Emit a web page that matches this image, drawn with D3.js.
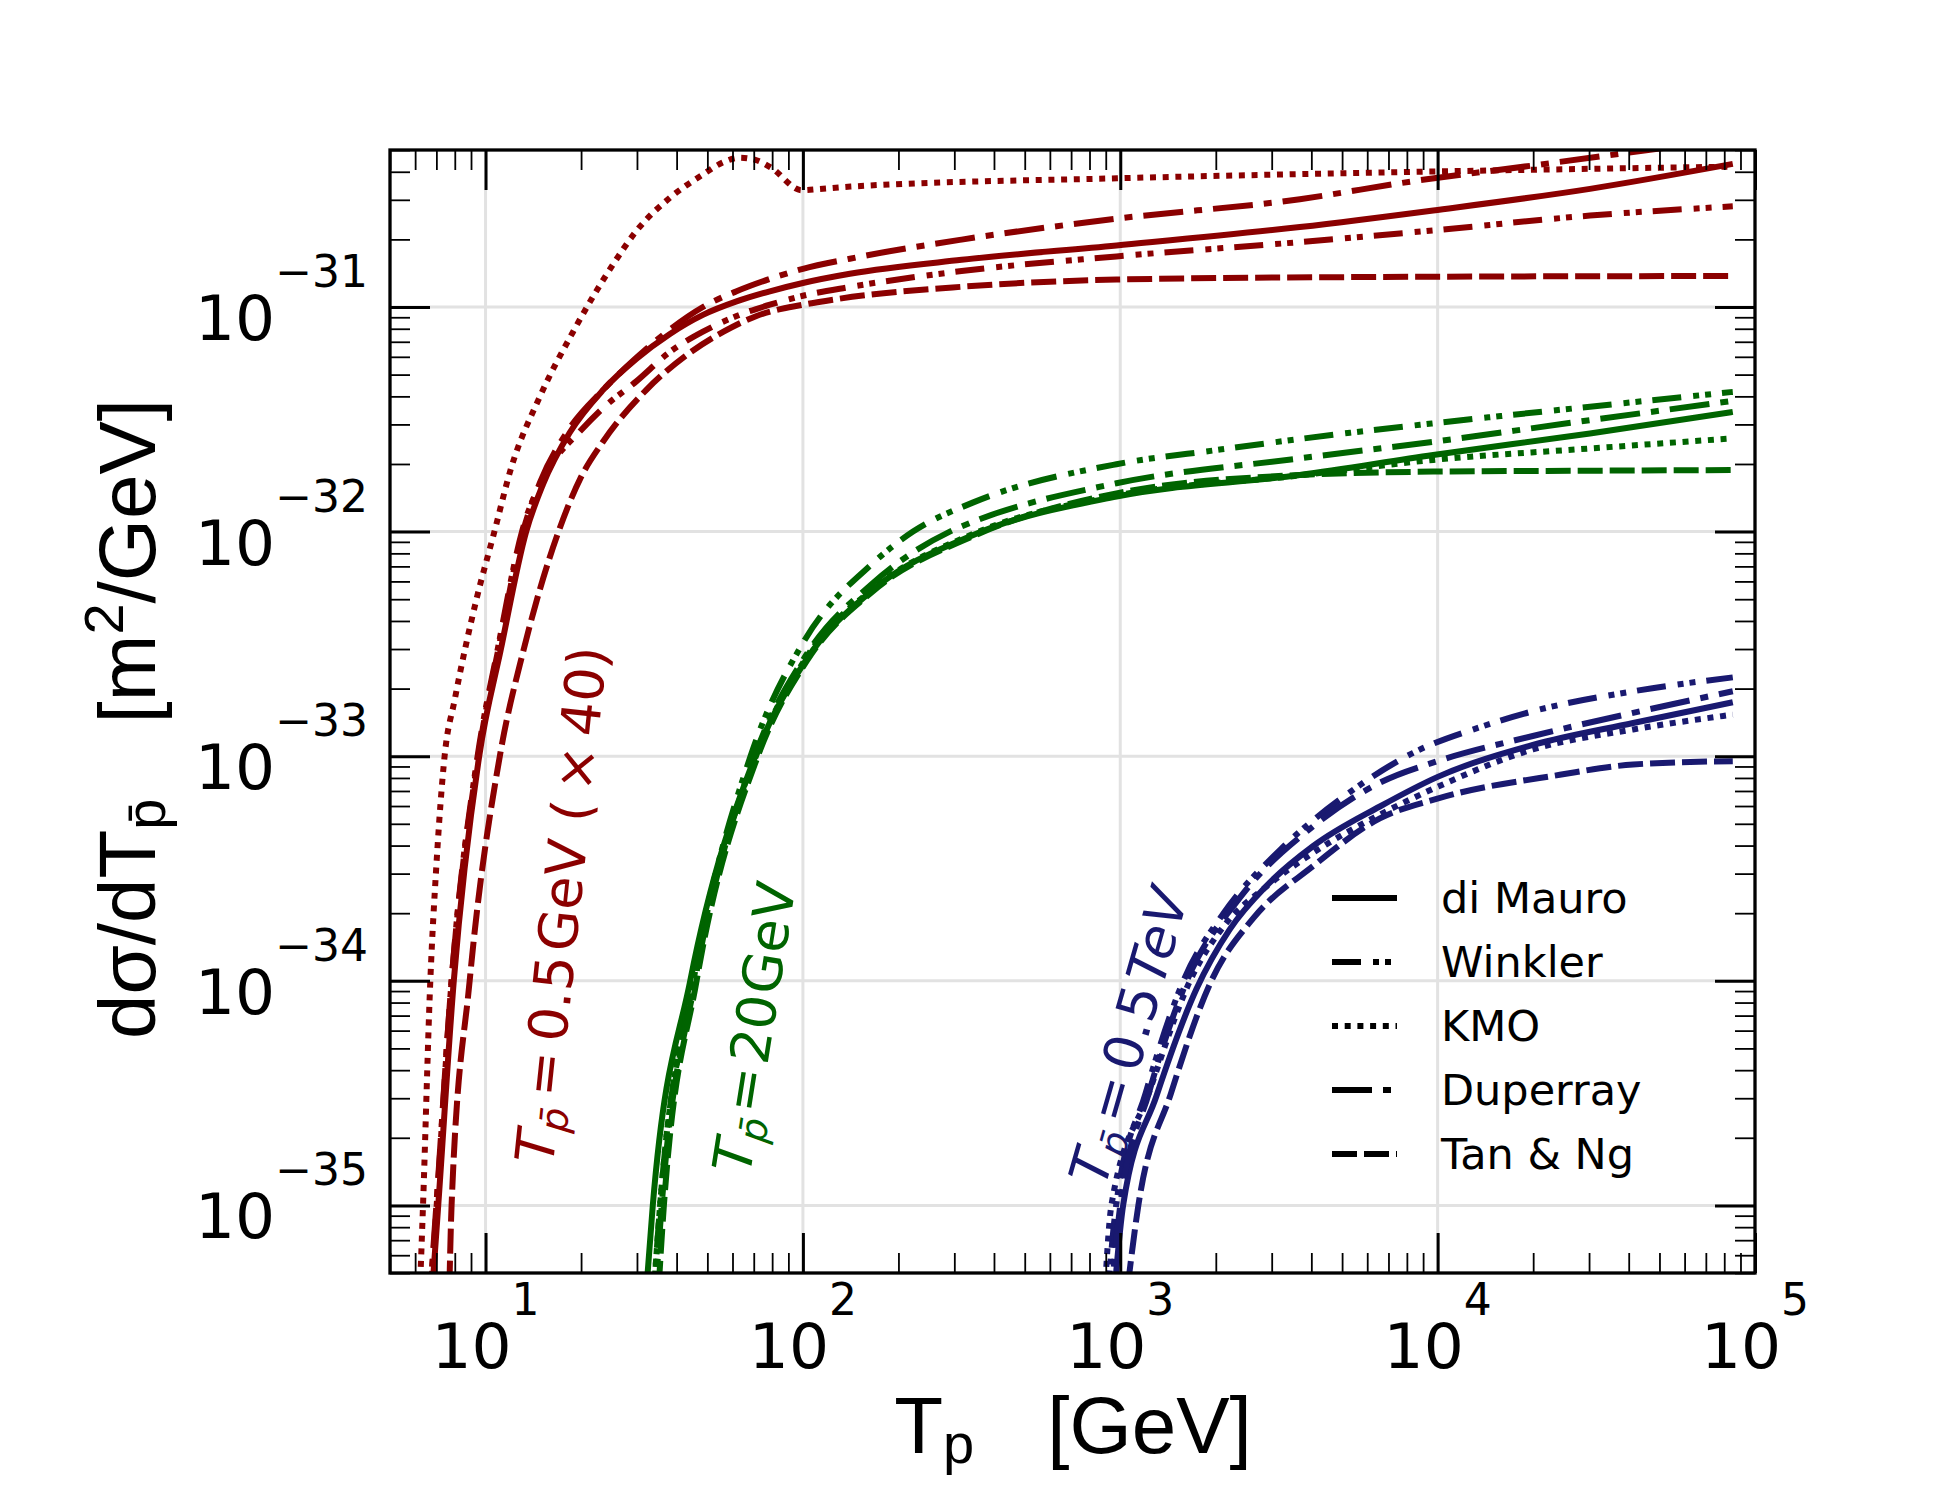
<!DOCTYPE html>
<html>
<head>
<meta charset="utf-8">
<script src="https://cdn.jsdelivr.net/npm/d3@7"></script>
<style>
  html, body { margin: 0; padding: 0; background: #fff; }
  svg { display: block; }
</style>
</head>
<body>
<div id="chart"></div>
<script>
// points are [log10 Tp (GeV), log10 dsigma/dT (m^2/GeV)]
const models = ["di Mauro", "Winkler", "KMO", "Duperray", "Tan & Ng"];

// T_pbar = 0.5 GeV (x 40)
const redDiMauro = [[0.826,-35.5],[0.851,-35.0],[0.90,-34.0],[0.98,-33.0],[1.048,-32.526],[1.128,-32.0],[1.181,-31.79],[1.265,-31.56],[1.37,-31.37],[1.476,-31.23],[1.581,-31.12],[1.685,-31.035],[1.791,-30.975],[1.896,-30.93],[2.0,-30.893],[2.148,-30.852],[2.5,-30.79],[2.988,-30.726],[3.566,-30.644],[3.986,-30.570],[4.48,-30.474],[4.93,-30.363]];
const redWinkler = [[0.822,-35.5],[0.846,-35.0],[0.893,-34.0],[0.975,-33.0],[1.038,-32.526],[1.115,-32.0],[1.2,-31.72],[1.3,-31.55],[1.37,-31.45],[1.476,-31.33],[1.581,-31.2],[1.685,-31.11],[1.791,-31.04],[1.896,-30.99],[2.0,-30.95],[2.148,-30.911],[2.5,-30.84],[2.988,-30.775],[3.566,-30.711],[3.986,-30.659],[4.48,-30.593],[4.93,-30.552]];
const redKMO = [[0.79,-35.5],[0.803,-35.0],[0.826,-34.0],[0.845,-33.489],[0.871,-33.0],[0.903,-32.748],[0.971,-32.304],[1.028,-32.0],[1.08,-31.72],[1.171,-31.4],[1.276,-31.11],[1.402,-30.81],[1.476,-30.66],[1.58,-30.515],[1.685,-30.41],[1.75,-30.355],[1.80,-30.335],[1.85,-30.345],[1.90,-30.38],[1.996,-30.48],[2.05,-30.475],[2.15,-30.464],[2.99,-30.427],[3.72,-30.404],[4.93,-30.375]];
const redDuperray = [[0.82,-35.5],[0.845,-35.0],[0.893,-34.0],[0.977,-33.0],[1.04,-32.526],[1.118,-32.0],[1.172,-31.78],[1.26,-31.55],[1.37,-31.37],[1.476,-31.225],[1.581,-31.1],[1.685,-31.0],[1.791,-30.93],[1.896,-30.875],[2.0,-30.83],[2.148,-30.785],[2.5,-30.70],[2.988,-30.607],[3.566,-30.52],[3.923,-30.44],[4.3,-30.37],[4.669,-30.30],[4.93,-30.25]];
const redTanNg = [[0.884,-35.5],[0.893,-35.0],[0.95,-34.0],[1.045,-33.0],[1.12,-32.526],[1.23,-32.0],[1.3,-31.76],[1.37,-31.6],[1.506,-31.37],[1.633,-31.215],[1.75,-31.11],[1.854,-31.04],[2.0,-30.99],[2.106,-30.965],[2.5,-30.91],[2.988,-30.878],[3.724,-30.867],[4.93,-30.862]];

// T_pbar = 20 GeV
const greenDiMauro = [[1.50,-35.5],[1.527,-35.0],[1.645,-34.0],[1.85,-33.0],[2.011,-32.57],[2.221,-32.259],[2.537,-32.015],[2.988,-31.844],[3.566,-31.748],[3.986,-31.659],[4.48,-31.563],[4.93,-31.467]];
const greenWinkler = [[1.525,-35.5],[1.55,-35.0],[1.655,-34.0],[1.835,-33.0],[2.0,-32.496],[2.221,-32.14],[2.347,-32.0],[2.537,-31.87],[2.988,-31.70],[3.303,-31.637],[3.724,-31.56],[3.986,-31.518],[4.48,-31.444],[4.93,-31.378]];
const greenKMO = [[1.525,-35.5],[1.55,-35.0],[1.655,-34.0],[1.852,-33.0],[2.011,-32.56],[2.221,-32.255],[2.537,-32.01],[2.988,-31.84],[3.566,-31.75],[3.986,-31.681],[4.48,-31.63],[4.93,-31.585]];
const greenDuperray = [[1.53,-35.5],[1.555,-35.0],[1.66,-34.0],[1.848,-33.0],[2.01,-32.55],[2.221,-32.229],[2.463,-32.0],[2.537,-31.956],[2.988,-31.785],[3.566,-31.674],[3.986,-31.6],[4.48,-31.504],[4.93,-31.418]];
const greenTanNg = [[1.54,-35.5],[1.562,-35.0],[1.665,-34.0],[1.858,-33.0],[2.015,-32.57],[2.221,-32.265],[2.537,-32.02],[2.988,-31.83],[3.566,-31.748],[3.986,-31.733],[4.48,-31.729],[4.93,-31.726]];

// T_pbar = 0.5 TeV
const blueDiMauro = [[2.975,-35.5],[3.009,-35.0],[3.114,-34.513],[3.24,-34.037],[3.345,-33.771],[3.461,-33.577],[3.608,-33.40],[3.818,-33.224],[4.002,-33.091],[4.30,-32.95],[4.616,-32.852],[4.93,-32.76]];
const blueWinkler = [[2.955,-35.5],[2.987,-35.0],[3.08,-34.5],[3.199,-34.0],[3.325,-33.70],[3.503,-33.418],[3.713,-33.171],[3.923,-32.985],[4.133,-32.871],[4.30,-32.80],[4.616,-32.711],[4.93,-32.649]];
const blueKMO = [[2.947,-35.5],[2.972,-35.0],[3.09,-34.5],[3.22,-34.0],[3.33,-33.75],[3.461,-33.58],[3.608,-33.43],[3.818,-33.26],[4.002,-33.135],[4.30,-32.97],[4.616,-32.881],[4.93,-32.815]];
const blueDuperray = [[2.965,-35.5],[3.0,-35.0],[3.09,-34.5],[3.21,-34.0],[3.377,-33.63],[3.608,-33.312],[3.818,-33.118],[4.002,-33.021],[4.30,-32.91],[4.616,-32.807],[4.93,-32.711]];
const blueTanNg = [[3.012,-35.5],[3.057,-35.0],[3.16,-34.5],[3.287,-34.0],[3.42,-33.72],[3.608,-33.489],[3.818,-33.277],[4.002,-33.188],[4.385,-33.083],[4.616,-33.037],[4.93,-33.022]];

const xMajorTicks = [10, 100, 1e3, 1e4, 1e5];
const yMajorTicks = [1e-35, 1e-34, 1e-33, 1e-32, 1e-31];

const red = "#8b0000", green = "#006400", blue = "#191970";
const dashes = ["none", "29,12,6,6,6,11", "6,6.7", "40,11,8,11", "25,7"];

const groups = [
  {color: red,   curves: [redDiMauro, redWinkler, redKMO, redDuperray, redTanNg]},
  {color: green, curves: [greenDiMauro, greenWinkler, greenKMO, greenDuperray, greenTanNg]},
  {color: blue,  curves: [blueDiMauro, blueWinkler, blueKMO, blueDuperray, blueTanNg]}
];

const width = 1950, height = 1500;
const plotL = 390, plotR = 1755, plotT = 150, plotB = 1273;

const x = d3.scaleLog().domain([5, 1e5]).range([plotL, plotR]);
const y = d3.scaleLog().domain([5e-36, 5e-31]).range([plotB, plotT]);

const svg = d3.select("#chart").append("svg")
  .attr("width", width).attr("height", height)
  .style("font-family", "'DejaVu Sans', sans-serif");

const isMajor = v => Math.abs(Math.log10(v) - Math.round(Math.log10(v))) < 1e-6;
const xMinor = x.ticks().filter(v => !isMajor(v));
const yMinor = y.ticks().filter(v => !isMajor(v));

// grid
svg.append("g").selectAll("line").data(xMajorTicks.slice(0, -1)).join("line")
  .attr("x1", d => x(d)).attr("x2", d => x(d))
  .attr("y1", plotT).attr("y2", plotB)
  .attr("stroke", "#e2e2e2").attr("stroke-width", 3);
svg.append("g").selectAll("line").data(yMajorTicks).join("line")
  .attr("x1", plotL).attr("x2", plotR)
  .attr("y1", d => y(d)).attr("y2", d => y(d))
  .attr("stroke", "#e2e2e2").attr("stroke-width", 3);

// curves
svg.append("clipPath").attr("id", "plot-clip")
  .append("rect").attr("x", plotL).attr("y", plotT)
  .attr("width", plotR - plotL).attr("height", plotB - plotT);

const line = d3.line()
  .x(d => x(Math.pow(10, d[0])))
  .y(d => y(Math.pow(10, d[1])))
  .curve(d3.curveMonotoneX);

const curveLayer = svg.append("g").attr("clip-path", "url(#plot-clip)");
groups.forEach(gr => {
  gr.curves.forEach((pts, i) => {
    curveLayer.append("path")
      .attr("d", line(pts))
      .attr("fill", "none")
      .attr("stroke", gr.color)
      .attr("stroke-width", 6)
      .attr("stroke-dasharray", dashes[i])
      .attr("stroke-linecap", "butt");
  });
});

// ticks on all four sides, pointing in
function ticks(axisFn, scale, values, len, sw, transform) {
  svg.append("g").attr("transform", transform)
    .call(axisFn(scale).tickValues(values).tickSize(-len).tickSizeOuter(0).tickFormat(""))
    .call(g => g.select(".domain").remove())
    .call(g => g.selectAll(".tick line").attr("stroke", "#000").attr("stroke-width", sw));
}
ticks(d3.axisBottom, x, xMajorTicks, 40, 3, `translate(0,${plotB})`);
ticks(d3.axisBottom, x, xMinor, 20, 1.8, `translate(0,${plotB})`);
ticks(d3.axisTop, x, xMajorTicks, 40, 3, `translate(0,${plotT})`);
ticks(d3.axisTop, x, xMinor, 20, 1.8, `translate(0,${plotT})`);
ticks(d3.axisLeft, y, yMajorTicks, 40, 3, `translate(${plotL},0)`);
ticks(d3.axisLeft, y, yMinor, 20, 1.8, `translate(${plotL},0)`);
ticks(d3.axisRight, y, yMajorTicks, 40, 3, `translate(${plotR},0)`);
ticks(d3.axisRight, y, yMinor, 20, 1.8, `translate(${plotR},0)`);

svg.append("rect")
  .attr("x", plotL).attr("y", plotT)
  .attr("width", plotR - plotL).attr("height", plotB - plotT)
  .attr("fill", "none").attr("stroke", "#000").attr("stroke-width", 3.3);

// tick labels 10^n
function powLabel(t, v) {
  const e = Math.round(Math.log10(v));
  t.append("tspan").text("10");
  t.append("tspan").attr("dy", -53).attr("font-size", 44)
    .text(e < 0 ? "\u2212" + (-e) : String(e));
}
xMajorTicks.forEach(v => {
  const t = svg.append("text")
    .attr("x", x(v)).attr("y", 1368)
    .attr("text-anchor", "middle").attr("font-size", 63).attr("fill", "#000");
  powLabel(t, v);
});
yMajorTicks.forEach(v => {
  const t = svg.append("text")
    .attr("x", 368).attr("y", y(v) + 33)
    .attr("text-anchor", "end").attr("font-size", 63).attr("fill", "#000");
  powLabel(t, v);
});

// axis titles
const xt = svg.append("text")
  .attr("x", 1073).attr("y", 1453)
  .attr("text-anchor", "middle")
  .attr("font-family", "'Liberation Sans', Arial, sans-serif")
  .attr("font-size", 80).attr("fill", "#000");
xt.append("tspan").text("T");
xt.append("tspan").attr("font-size", 56).attr("dy", 10).text("p");
xt.append("tspan").attr("dy", -10).attr("dx", 73).text("[GeV]");

const yt = svg.append("text")
  .attr("transform", "translate(155,719) rotate(-90)")
  .attr("text-anchor", "middle")
  .attr("font-family", "'Liberation Sans', Arial, sans-serif")
  .attr("font-size", 80).attr("fill", "#000");
yt.append("tspan").text("d\u03c3/dT");
yt.append("tspan").attr("font-size", 56).attr("dy", 10).text("p\u0304");
yt.append("tspan").attr("dy", -10).attr("dx", 75).text("[m");
yt.append("tspan").attr("font-size", 56).attr("dy", -32).text("2");
yt.append("tspan").attr("dy", 32).text("/GeV]");

// curve labels
function curveLabel(px, py, angle, color, value, unit, unitItalic, extra, gap) {
  const t = svg.append("text")
    .attr("transform", `translate(${px},${py}) rotate(${angle})`)
    .attr("font-size", 54).attr("fill", color);
  t.append("tspan").attr("font-style", "italic").text("T");
  t.append("tspan").attr("font-style", "italic").attr("font-size", 38).attr("dy", 10).text("p\u0304");
  t.append("tspan").attr("dy", -10).attr("dx", gap).text("=");
  t.append("tspan").attr("dx", gap).text(value);
  t.append("tspan").attr("dx", gap / 2).attr("font-style", unitItalic ? "italic" : "normal").text(unit);
  if (extra) {
    t.append("tspan").attr("dx", 18).text("(");
    t.append("tspan").attr("dx", 10).text("\u00d7");
    t.append("tspan").attr("dx", 10).text("40");
    t.append("tspan").text(")");
  }
}
curveLabel(553, 1165, -84, red, "0.5", "GeV", false, true, 10);
curveLabel(750, 1175, -81, green, "20", "GeV", false, false, 4);
curveLabel(1105, 1188, -74, blue, "0.5", "TeV", true, false, 8);

// legend
const legend = svg.append("g");
models.forEach((m, i) => {
  const ly = 898 + i * 64;
  legend.append("line")
    .attr("x1", 1332).attr("x2", 1397).attr("y1", ly).attr("y2", ly)
    .attr("stroke", "#000").attr("stroke-width", 6)
    .attr("stroke-dasharray", dashes[i]);
  legend.append("text")
    .attr("x", 1441).attr("y", ly + 15)
    .attr("font-size", 43).attr("fill", "#000")
    .text(m);
});
</script>
</body>
</html>
